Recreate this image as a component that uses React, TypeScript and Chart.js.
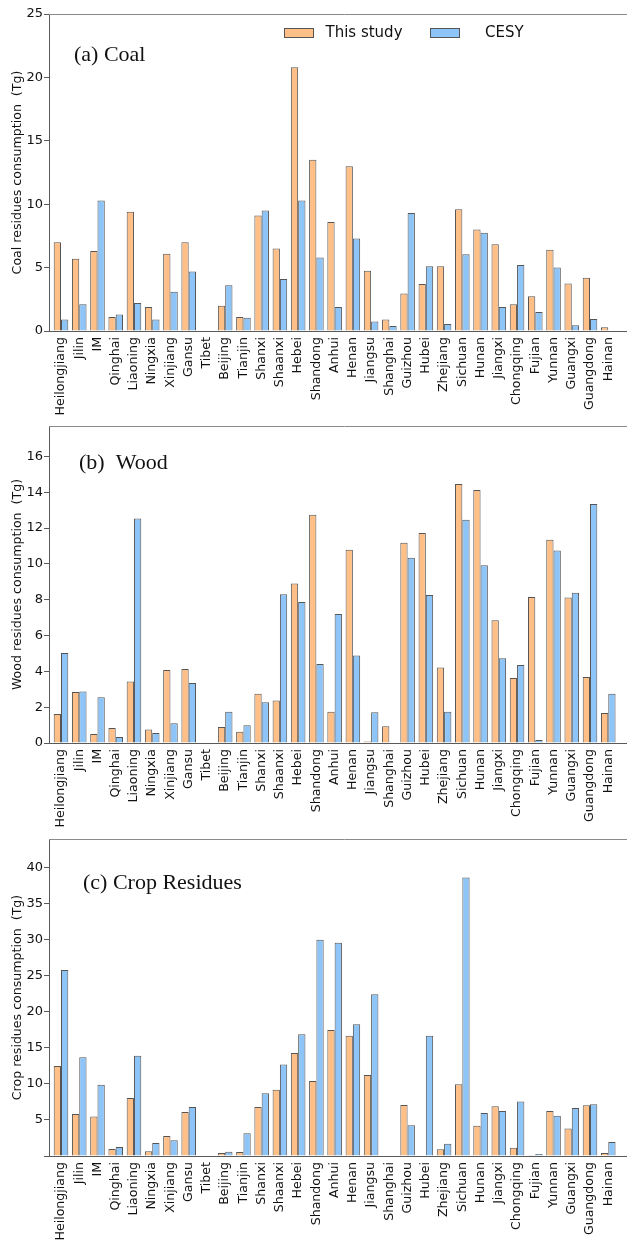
import React, { useEffect, useRef } from "react";
import { Chart, registerables } from "chart.js";

Chart.register(...registerables);

// ---------------- data ----------------
const categories = [
  "Heilongjiang", "Jilin", "IM", "Qinghai", "Liaoning", "Ningxia", "Xinjiang", "Gansu",
  "Tibet", "Beijing", "Tianjin", "Shanxi", "Shaanxi", "Hebei", "Shandong", "Anhui",
  "Henan", "Jiangsu", "Shanghai", "Guizhou", "Hubei", "Zhejiang", "Sichuan", "Hunan",
  "Jiangxi", "Chongqing", "Fujian", "Yunnan", "Guangxi", "Guangdong", "Hainan",
];

const seriesNames = ["This study", "CESY"];

const coalThisStudy = [
  7.0, 5.7, 6.3, 1.1, 9.4, 1.9, 6.1, 7.0, 0, 2.0, 1.1, 9.1, 6.5, 20.8, 13.5, 8.6,
  13.0, 4.75, 0.9, 2.95, 3.7, 5.1, 9.6, 8.0, 6.85, 2.1, 2.75, 6.4, 3.75, 4.2, 0.3,
];
const coalCESY = [
  0.9, 2.1, 10.3, 1.3, 2.2, 0.9, 3.1, 4.7, 0, 3.6, 1.05, 9.5, 4.1, 10.3, 5.8, 1.9,
  7.3, 0.75, 0.4, 9.3, 5.1, 0.55, 6.05, 7.75, 1.9, 5.2, 1.5, 5.0, 0.45, 0.95, 0,
];

const woodThisStudy = [
  1.62, 2.85, 0.5, 0.84, 3.44, 0.76, 4.07, 4.13, 0, 0.89, 0.63, 2.75, 2.38, 8.91, 12.74, 1.75,
  10.79, 0.09, 0.93, 11.18, 11.72, 4.22, 14.46, 14.12, 6.85, 3.63, 8.15, 11.35, 8.13, 3.68, 1.67,
];
const woodCESY = [
  5.02, 2.88, 2.55, 0.33, 12.54, 0.56, 1.1, 3.35, 0, 1.75, 0.99, 2.27, 8.3, 7.87, 4.41, 7.2,
  4.89, 1.71, 0, 10.34, 8.26, 1.75, 12.47, 9.93, 4.73, 4.35, 0.17, 10.75, 8.39, 13.34, 2.75,
];

const cropThisStudy = [
  12.5, 5.83, 5.5, 0.97, 8.06, 0.65, 2.78, 6.1, 0, 0.42, 0.56, 6.8, 9.2, 14.3, 10.4, 17.5,
  16.7, 11.25, 0, 7.08, 0, 0.93, 9.95, 4.2, 6.9, 1.16, 0.05, 6.25, 3.8, 7.04, 0.42,
];
const cropCESY = [
  25.8, 13.7, 9.9, 1.25, 13.9, 1.8, 2.2, 6.8, 0, 0.6, 3.15, 8.7, 12.7, 16.9, 30.0, 29.6,
  18.3, 22.45, 0, 4.26, 16.7, 1.7, 38.66, 5.97, 6.25, 7.55, 0.28, 5.6, 6.67, 7.18, 1.94,
];

// ---------------- styles ----------------
const ORANGE = "#FFBF86";
const BLUE = "#8EC5F9";
const EDGE = "#555555";
const AXIS = "#5a5a5a";
const TEXT = "#111111";
const SANS = '"DejaVu Sans", sans-serif';
const SERIF = '"Liberation Serif", "Times New Roman", serif';

const CANVAS_W = 640;
const CANVAS_H = 440;
const AXIS_LEFT = 49;
const PLOT_TOP = 14;
const PLOT_H = 317;
const X_MIN = -0.658;
const X_MAX = 31.74;

type PanelProps = {
  label: string;
  labelX: number;
  labelDy: number;
  yTitle: string;
  yMax: number;
  yStep: number;
  hideZero: boolean;
  thisStudy: number[];
  cesy: number[];
  showLegend: boolean;
};

function Panel(props: PanelProps) {
  const ref = useRef<HTMLCanvasElement>(null);

  useEffect(() => {
    const canvas = ref.current;
    if (!canvas) return;
    const { label, labelX, labelDy, yTitle, yMax, yStep, hideZero, thisStudy, cesy, showLegend } = props;

    const overlay = {
      id: "panelOverlay",
      afterDraw(chart: any) {
        const { ctx, chartArea } = chart;
        ctx.save();
        // top frame line
        ctx.strokeStyle = "#8a8a8a";
        ctx.lineWidth = 1;
        ctx.beginPath();
        ctx.moveTo(chartArea.left, chartArea.top + 0.5);
        ctx.lineTo(chartArea.right, chartArea.top + 0.5);
        ctx.stroke();
        // panel label
        ctx.fillStyle = TEXT;
        ctx.font = `22px ${SERIF}`;
        ctx.textAlign = "left";
        ctx.textBaseline = "alphabetic";
        ctx.fillText(label, labelX, chartArea.top + labelDy);
        // legend
        if (showLegend) {
          const boxX = [chartArea.left + 235, chartArea.left + 381];
          const textX = [chartArea.left + 276.5, chartArea.left + 436];
          const boxTop = chartArea.top + 14;
          chart.data.datasets.forEach((ds: any, i: number) => {
            ctx.fillStyle = ds.backgroundColor;
            ctx.fillRect(boxX[i], boxTop, 30, 10);
            ctx.strokeStyle = EDGE;
            ctx.lineWidth = 1;
            ctx.strokeRect(boxX[i] + 0.5, boxTop + 0.5, 29, 9);
            ctx.fillStyle = TEXT;
            ctx.font = `15px ${SANS}`;
            ctx.textBaseline = "middle";
            ctx.fillText(ds.label, textX[i], boxTop + 5);
          });
        }
        ctx.restore();
      },
    };

    const toPoints = (arr: number[]) => arr.map((v, i) => ({ x: i, y: v }));

    const chart = new Chart(canvas, {
      type: "bar",
      data: {
        datasets: [
          {
            label: seriesNames[0],
            data: toPoints(thisStudy),
            backgroundColor: ORANGE,
            borderColor: EDGE,
            borderWidth: 1,
            categoryPercentage: 0.8,
            barPercentage: 1.0,
          },
          {
            label: seriesNames[1],
            data: toPoints(cesy),
            backgroundColor: BLUE,
            borderColor: EDGE,
            borderWidth: 1,
            categoryPercentage: 0.8,
            barPercentage: 1.0,
          },
        ],
      },
      options: {
        responsive: false,
        animation: false,
        layout: { padding: { top: PLOT_TOP, left: 0, right: 0, bottom: 0 } },
        plugins: {
          legend: { display: false },
          tooltip: { enabled: false },
          title: { display: false },
        },
        scales: {
          x: {
            type: "linear",
            min: X_MIN,
            max: X_MAX,
            offset: false,
            grid: { display: false, drawTicks: false, offset: false },
            border: { display: true, color: AXIS, width: 1 },
            ticks: {
              stepSize: 1,
              includeBounds: false,
              autoSkip: false,
              maxRotation: 90,
              minRotation: 90,
              padding: 6,
              color: TEXT,
              font: { family: SANS, size: 12.6 },
              callback: (v: any) => {
                const n = Number(v);
                return Number.isInteger(n) && n >= 0 && n < categories.length ? categories[n] : null;
              },
            },
            afterFit: (s: any) => {
              s.height = CANVAS_H - PLOT_TOP - PLOT_H;
            },
          },
          y: {
            min: 0,
            max: yMax,
            grid: { display: true, drawOnChartArea: false, drawTicks: true, tickLength: 5, color: AXIS },
            border: { display: true, color: AXIS, width: 1 },
            ticks: {
              stepSize: yStep,
              includeBounds: false,
              padding: 1,
              color: TEXT,
              font: { family: SANS, size: 13 },
              callback: (v: any) => (hideZero && Number(v) === 0 ? "" : String(v)),
            },
            title: {
              display: true,
              text: yTitle,
              color: TEXT,
              font: { family: SANS, size: 12.6 },
              padding: { top: 10, bottom: 0 },
            },
            afterFit: (s: any) => {
              s.width = AXIS_LEFT;
            },
          },
        },
      } as any,
      plugins: [overlay],
    });

    return () => chart.destroy();
  }, []);

  return (
    <canvas
      ref={ref}
      width={CANVAS_W}
      height={CANVAS_H}
      style={{ display: "block", width: CANVAS_W, height: CANVAS_H }}
    />
  );
}

const panelTops = [0, 412, 825];

export default function App() {
  return (
    <div
      style={{
        position: "absolute",
        left: 0,
        top: 0,
        width: 627,
        height: 1242,
        overflow: "hidden",
        background: "#ffffff",
      }}
    >
      <div style={{ position: "absolute", left: 0, top: panelTops[0] }}>
        <Panel
          label="(a) Coal"
          labelX={74}
          labelDy={47}
          yTitle="Coal residues consumption  (Tg)"
          yMax={25}
          yStep={5}
          hideZero={false}
          thisStudy={coalThisStudy}
          cesy={coalCESY}
          showLegend={true}
        />
      </div>
      <div style={{ position: "absolute", left: 0, top: panelTops[1] }}>
        <Panel
          label="(b)  Wood"
          labelX={79}
          labelDy={43}
          yTitle="Wood residues consumption  (Tg)"
          yMax={17.7}
          yStep={2}
          hideZero={false}
          thisStudy={woodThisStudy}
          cesy={woodCESY}
          showLegend={false}
        />
      </div>
      <div style={{ position: "absolute", left: 0, top: panelTops[2] }}>
        <Panel
          label="(c) Crop Residues"
          labelX={83}
          labelDy={50}
          yTitle="Crop residues consumption  (Tg)"
          yMax={44}
          yStep={5}
          hideZero={true}
          thisStudy={cropThisStudy}
          cesy={cropCESY}
          showLegend={false}
        />
      </div>
    </div>
  );
}
